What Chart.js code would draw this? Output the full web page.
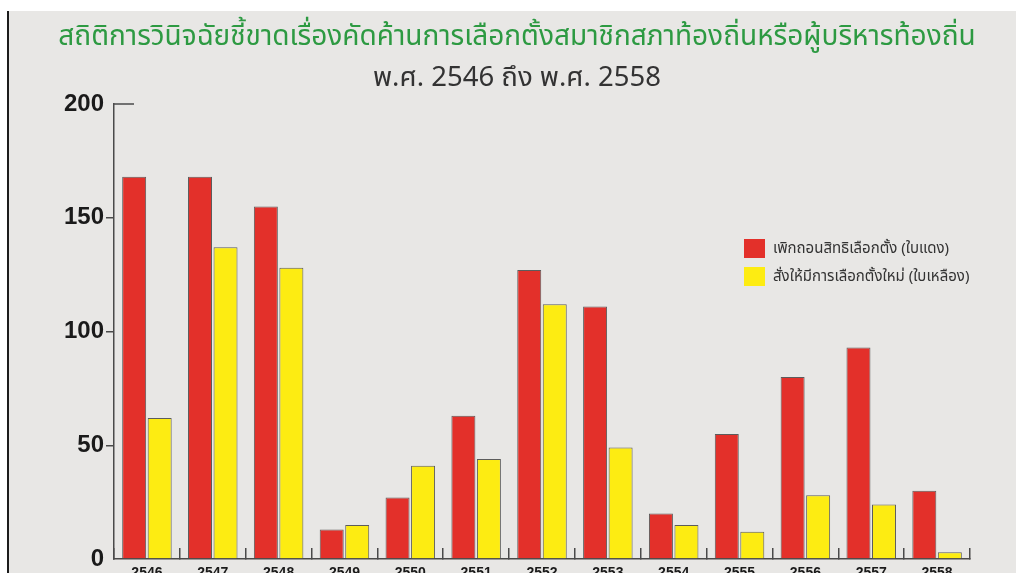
<!DOCTYPE html>
<html lang="th">
<head>
<meta charset="utf-8">
<script src="https://cdn.jsdelivr.net/npm/chart.js@4/dist/chart.umd.min.js"></script>
<style>
  html, body { margin: 0; padding: 0; background: #fff; overflow: hidden; width: 1016px; height: 573px; }
  #frame { position: absolute; top: 11px; left: 7px; right: 0; bottom: 0; background: #e8e7e5; border-left: 2px solid #1c1c1c; }
  #chart { position: absolute; top: 0; left: 0; }
  .title { position: absolute; left: 0; width: 1034px; text-align: center; white-space: nowrap; font-family: 'Noto Sans Thai', 'Noto Sans', sans-serif; }
  #title { top: 15px; font-size: 28px; color: #2d9a42; }
  #subtitle { top: 57px; font-size: 27.5px; color: #333; }
  #legend { position: absolute; left: 744px; top: 239px; font-family: 'Noto Sans Thai', 'Noto Sans', sans-serif; font-size: 15px; color: #333; }
  .legend-item { display: flex; align-items: center; height: 19px; margin-bottom: 9px; white-space: nowrap; }
  .legend-dot { width: 21px; height: 19px; margin-right: 8px; flex: none; }
</style>
</head>
<body>
<div id="frame"></div>
<canvas id="chart" width="1016" height="600"></canvas>
<div id="title" class="title">สถิติการวินิจฉัยชี้ขาดเรื่องคัดค้านการเลือกตั้งสมาชิกสภาท้องถิ่นหรือผู้บริหารท้องถิ่น</div>
<div id="subtitle" class="title">พ.ศ. 2546 ถึง พ.ศ. 2558</div>
<div id="legend"></div>
<script>
// ── Data ─────────────────────────────────────────────────────────
const YEARS = ['2546', '2547', '2548', '2549', '2550', '2551', '2552',
               '2553', '2554', '2555', '2556', '2557', '2558'];
const RED_CARDS    = [168, 168, 155, 13, 27, 63, 127, 111, 20, 55, 80, 93, 30];
const YELLOW_CARDS = [62, 137, 128, 15, 41, 44, 112, 49, 15, 12, 28, 24, 3];
const SERIES_LABELS = ['เพิกถอนสิทธิเลือกตั้ง (ใบแดง)', 'สั่งให้มีการเลือกตั้งใหม่ (ใบเหลือง)'];
const Y_MIN = 0;
const Y_MAX = 200;
const Y_STEP = 50;

const COLORS = ['#e3302a', '#fdec12'];
const AXIS_COLOR = '#4a4a4a';

// small cap line at the top of the y axis
const topCap = {
  id: 'topCap',
  afterDraw(chart) {
    const y = chart.scales.y;
    const py = y.getPixelForValue(Y_MAX);
    const ctx = chart.ctx;
    ctx.save();
    ctx.strokeStyle = AXIS_COLOR;
    ctx.lineWidth = 1.5;
    ctx.beginPath();
    ctx.moveTo(y.right, py);
    ctx.lineTo(y.right + 20, py);
    ctx.stroke();
    ctx.restore();
  },
};

const chart = new Chart(document.getElementById('chart'), {
  type: 'bar',
  data: {
    labels: YEARS,
    datasets: [
      { label: SERIES_LABELS[0], data: RED_CARDS, backgroundColor: COLORS[0] },
      { label: SERIES_LABELS[1], data: YELLOW_CARDS, backgroundColor: COLORS[1] },
    ],
  },
  options: {
    responsive: false,
    animation: false,
    devicePixelRatio: 1,
    layout: { padding: { top: 104, left: 0, right: 46, bottom: 11 } },
    datasets: {
      bar: {
        borderColor: '#5c5c5c',
        borderWidth: 1,
        borderSkipped: 'bottom',
        categoryPercentage: 0.775,
        barPercentage: 0.94,
      },
    },
    scales: {
      x: {
        grid: {
          offset: true,
          drawOnChartArea: false,
          drawTicks: true,
          tickLength: -11,
          color: AXIS_COLOR,
          lineWidth: 1.5,
        },
        border: { display: true, color: AXIS_COLOR, width: 1.5 },
        ticks: {
          padding: 17,
          color: '#1a1a1a',
          font: { family: "'Liberation Sans', Arial, sans-serif", size: 14, weight: 'bold' },
        },
        afterFit: (scale) => { scale.height = 30; },
      },
      y: {
        min: Y_MIN,
        max: Y_MAX,
        ticks: {
          stepSize: Y_STEP,
          padding: 2,
          color: '#1a1a1a',
          font: { family: "'Liberation Sans', Arial, sans-serif", size: 24, weight: 'bold' },
        },
        grid: {
          drawOnChartArea: false,
          drawTicks: true,
          tickLength: 8,
          color: (c) => (c.tick && (c.tick.value === Y_MIN || c.tick.value === Y_MAX)) ? 'rgba(0,0,0,0)' : AXIS_COLOR,
          lineWidth: 1.5,
        },
        border: { display: true, color: AXIS_COLOR, width: 1.5 },
        afterFit: (scale) => { scale.width = 114; },
      },
    },
    plugins: {
      legend: { display: false },
      title: { display: false },
      tooltip: { enabled: false },
    },
  },
  plugins: [topCap],
});

// Legend
const legend = document.getElementById('legend');
legend.innerHTML = chart.data.datasets.map((d) => `
  <div class="legend-item">
    <span class="legend-dot" style="background:${d.backgroundColor}"></span>
    <span class="legend-label">${d.label}</span>
  </div>`).join('');
</script>
</body>
</html>
